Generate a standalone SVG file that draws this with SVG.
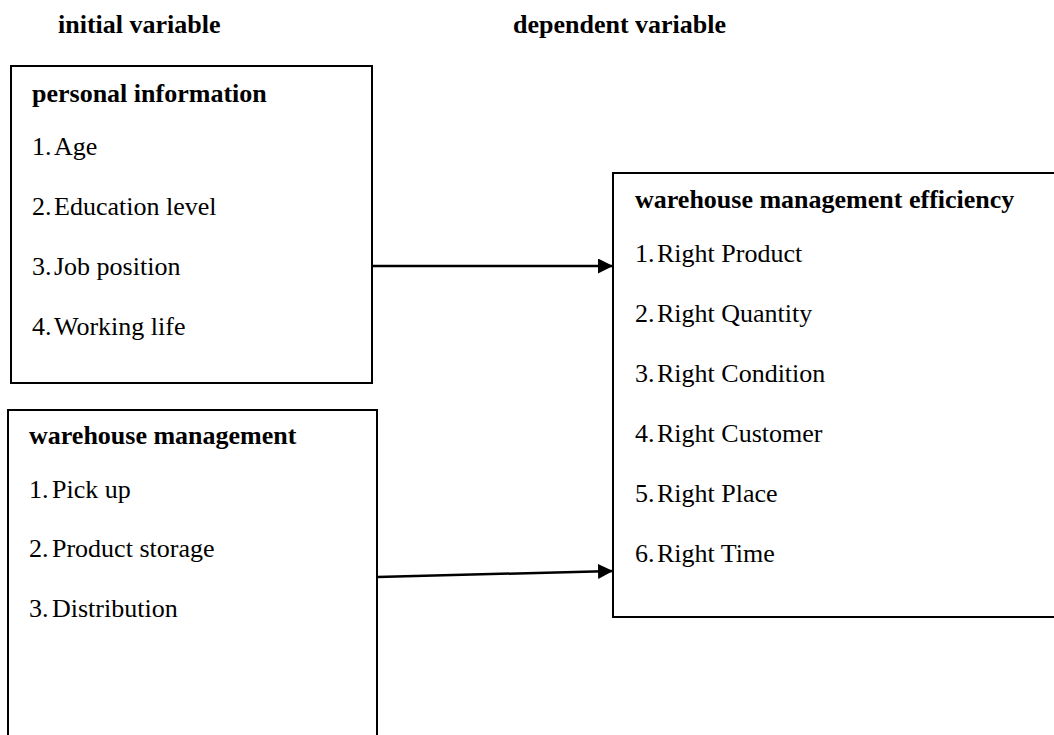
<svg xmlns="http://www.w3.org/2000/svg" width="1054" height="735" viewBox="0 0 1054 735">
<style>
text{font-family:"Liberation Serif","Times New Roman",serif;font-size:26px;fill:#000}
.b{font-weight:bold}
.box{fill:#fff;stroke:#000;stroke-width:2}
.con{stroke:#000;stroke-width:2.5;fill:none}
</style>
<defs>
<marker id="arr" markerUnits="userSpaceOnUse" markerWidth="16" markerHeight="16" refX="15" refY="7.5" orient="auto">
<path d="M0,0 L15,7.5 L0,15 Z" fill="#000"/>
</marker>
</defs>
<rect width="1054" height="735" fill="#fff"/>
<g id="headers">
<text class="b" x="58" y="33">initial variable</text>
<text class="b" x="513" y="33">dependent variable</text>
</g>
<g id="personal">
<rect class="box" x="11" y="66" width="361" height="317"/>
<text class="b" x="32" y="102">personal information</text>
<text y="155"><tspan x="32">1.</tspan><tspan x="54">Age</tspan></text>
<text y="215"><tspan x="32">2.</tspan><tspan x="54">Education level</tspan></text>
<text y="275"><tspan x="32">3.</tspan><tspan x="54">Job position</tspan></text>
<text y="335"><tspan x="32">4.</tspan><tspan x="54">Working life</tspan></text>
</g>
<g id="warehouse">
<rect class="box" x="8" y="410" width="369" height="340"/>
<text class="b" x="29" y="444">warehouse management</text>
<text y="498"><tspan x="29">1.</tspan><tspan x="52">Pick up</tspan></text>
<text y="557"><tspan x="29">2.</tspan><tspan x="52">Product storage</tspan></text>
<text y="617"><tspan x="29">3.</tspan><tspan x="52">Distribution</tspan></text>
</g>
<g id="efficiency">
<rect class="box" x="613" y="173" width="460" height="444"/>
<text class="b" x="635" y="208">warehouse management efficiency</text>
<text y="262"><tspan x="635">1.</tspan><tspan x="657">Right Product</tspan></text>
<text y="322"><tspan x="635">2.</tspan><tspan x="657">Right Quantity</tspan></text>
<text y="382"><tspan x="635">3.</tspan><tspan x="657">Right Condition</tspan></text>
<text y="442"><tspan x="635">4.</tspan><tspan x="657">Right Customer</tspan></text>
<text y="502"><tspan x="635">5.</tspan><tspan x="657">Right Place</tspan></text>
<text y="562"><tspan x="635">6.</tspan><tspan x="657">Right Time</tspan></text>
</g>
<g id="connectors">
<line class="con" x1="372" y1="266" x2="613" y2="266" marker-end="url(#arr)"/>
<line class="con" x1="377" y1="577" x2="613" y2="571" marker-end="url(#arr)"/>
</g>
</svg>
